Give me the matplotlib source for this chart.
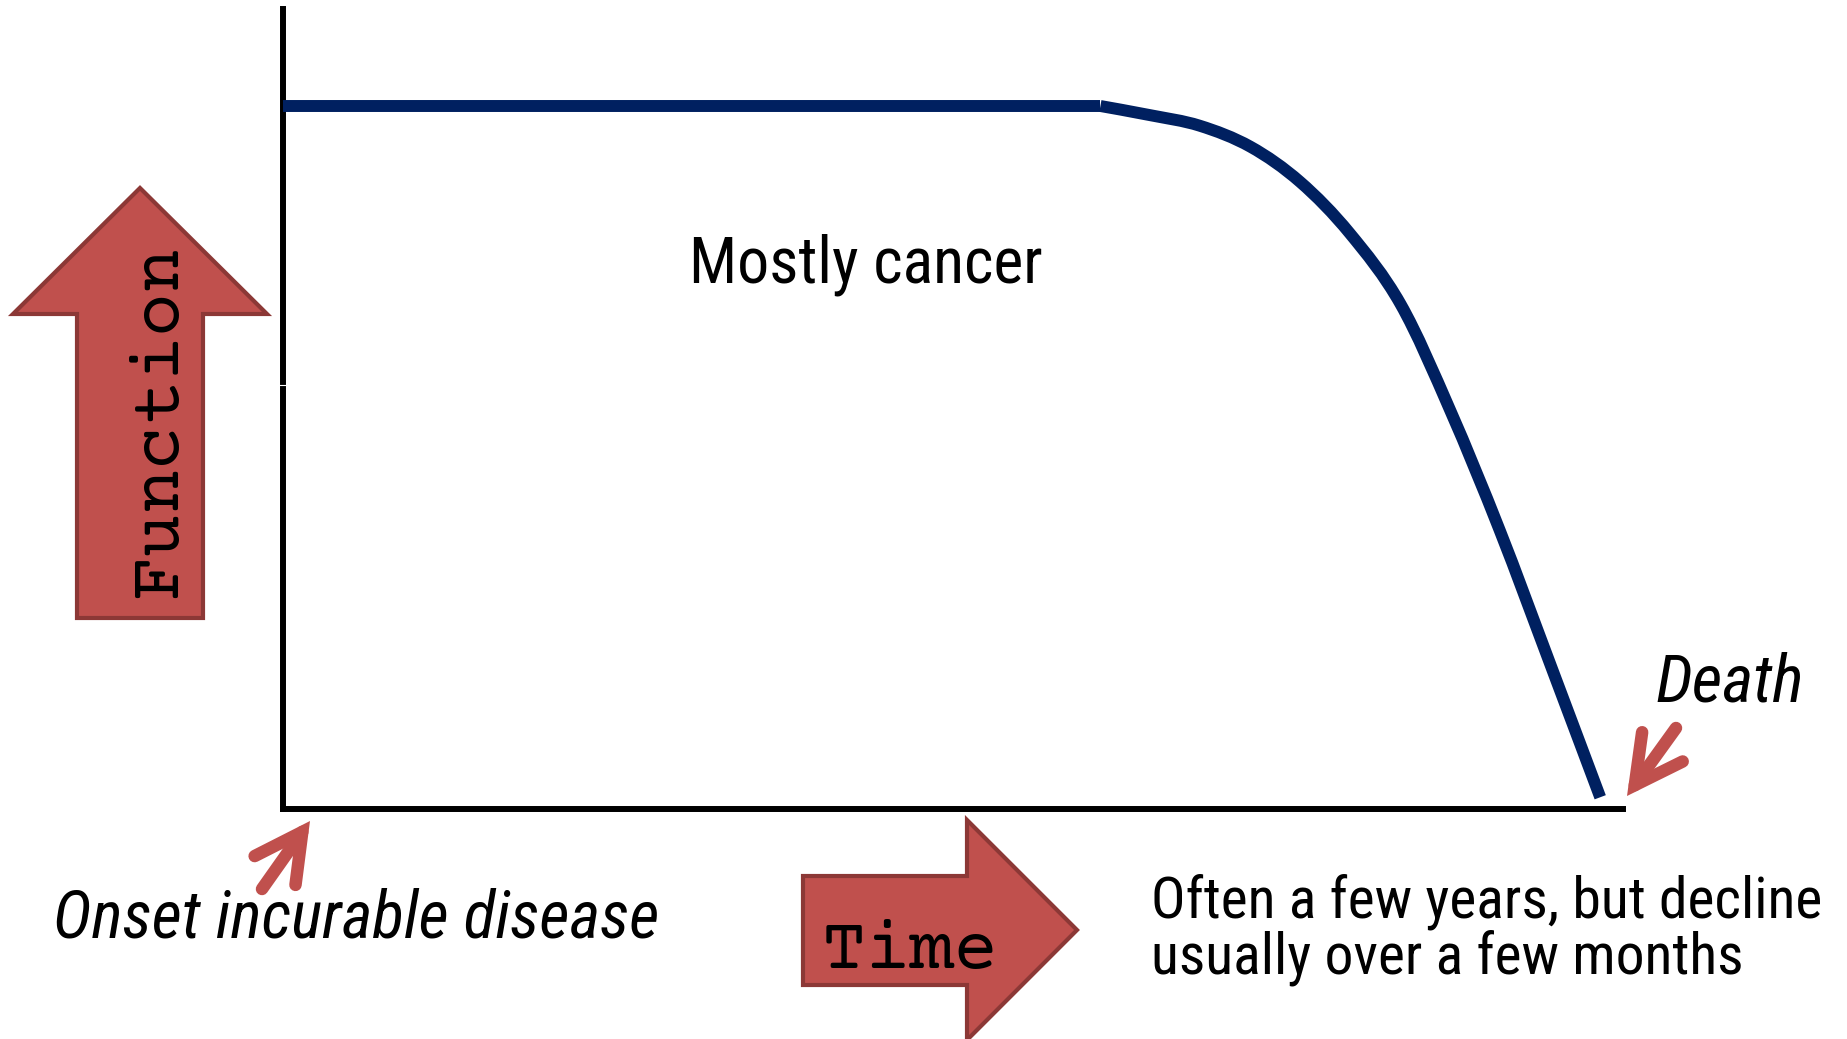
import matplotlib
matplotlib.use("Agg")
import matplotlib.pyplot as plt
from matplotlib import font_manager
from matplotlib.patches import Polygon, FancyArrowPatch, ArrowStyle, PathPatch
from matplotlib.path import Path

# ---- data (time in % of illness trajectory, function in % of baseline) ----
time = [0, 61.0, 64.7, 68.4, 72.2, 75.9, 79.6, 83.4, 87.1, 90.8, 94.6, 98.3]
function = [100, 100, 98.7, 97.2, 94.2, 89.2, 81.9, 71.8, 56.7, 39.6, 20.4, 1.6]

label_center = "Mostly cancer"
label_onset = "Onset incurable disease"
label_death = "Death"
label_note = ["Often a few years, but decline", "usually over a few months"]
label_x = "Time"
label_y = "Function"

W, H = 1847, 1039
names = {f.name for f in font_manager.fontManager.ttflist}


def pick(*cands):
    for c in cands:
        if c in names:
            return c
    return "DejaVu Sans"


SANS = pick("Liberation Sans Narrow", "Roboto Condensed", "Archivo Narrow", "Liberation Sans")
MONO = pick("Courier Prime", "Liberation Mono", "DejaVu Sans Mono")

fig = plt.figure(figsize=(W / 100, H / 100), dpi=100)
fig.patch.set_facecolor("white")

ax = fig.add_axes([283 / W, (H - 808.5) / H, 1340 / W, 799.5 / H])
ax.set_xlim(0, 100)
ax.set_ylim(0, 799.5 / 7.025)
for s in ("top", "right"):
    ax.spines[s].set_visible(False)
for s in ("left", "bottom"):
    ax.spines[s].set_linewidth(4.3)
    ax.spines[s].set_color("black")
    ax.spines[s].set_capstyle("projecting")
ax.set_xticks([])
ax.set_yticks([])
ax.patch.set_alpha(0)

# flat part as a straight line, declining part as a smooth Catmull-Rom path
navy = "#002060"
ax.plot(time[:2], function[:2], color=navy, lw=8.6, solid_capstyle="butt",
        clip_on=False, zorder=3)
pts = list(zip(time[1:], function[1:]))
ext = [pts[0]] + pts + [pts[-1]]
verts = [pts[0]]
codes = [Path.MOVETO]
for i in range(1, len(ext) - 2):
    p0, p1, p2, p3 = ext[i - 1], ext[i], ext[i + 1], ext[i + 2]
    c1 = (p1[0] + (p2[0] - p0[0]) / 6, p1[1] + (p2[1] - p0[1]) / 6)
    c2 = (p2[0] - (p3[0] - p1[0]) / 6, p2[1] - (p3[1] - p1[1]) / 6)
    verts += [c1, c2, p2]
    codes += [Path.CURVE4] * 3
ax.add_patch(PathPatch(Path(verts, codes), facecolor="none", edgecolor=navy,
                       lw=8.6, capstyle="butt", joinstyle="round",
                       clip_on=False, zorder=3))

ov = fig.add_axes([0, 0, 1, 1])
ov.set_xlim(0, W)
ov.set_ylim(H, 0)
ov.axis("off")
ov.patch.set_alpha(0)

ov.plot([279, 288], [385, 385], color="white", lw=0.8)

face, edge = "#C0504D", "#8C3836"
ov.add_patch(Polygon([(140, 188), (267, 314), (203, 314), (203, 618), (77, 618),
                      (77, 314), (13, 314)], closed=True, facecolor=face,
                     edgecolor=edge, lw=3, joinstyle="miter"))
ov.add_patch(Polygon([(803, 876), (967, 876), (967, 820), (1077, 930), (967, 1040),
                      (967, 985), (803, 985)], closed=True, facecolor=face,
                     edgecolor=edge, lw=3, joinstyle="miter"))

ov.text(176, 421, label_y, family=MONO, fontsize=53, rotation=90,
        rotation_mode="anchor", ha="center", va="baseline", color="black")
ov.text(910, 968, label_x, family=MONO, fontsize=53, ha="center",
        va="baseline", color="black")

ov.text(689, 283, label_center, family=SANS, fontsize=46, ha="left", va="baseline")
ov.text(53, 937, label_onset, family=SANS, style="italic", fontsize=47.5,
        ha="left", va="baseline")
ov.text(1655, 702, label_death, family=SANS, style="italic", fontsize=48,
        ha="left", va="baseline")
ov.text(1151, 918, label_note[0], family=SANS, fontsize=41.5, ha="left", va="baseline")
ov.text(1151, 974, label_note[1], family=SANS, fontsize=41.5, ha="left", va="baseline")

style = ArrowStyle("->", head_length=34, head_width=18)
for tail, tip in [((262, 889), (310, 821)), ((1676, 728), (1627, 796))]:
    ov.add_patch(FancyArrowPatch(tail, tip, arrowstyle=style, mutation_scale=1,
                                 color=face, lw=9, shrinkA=0, shrinkB=0,
                                 capstyle="round", joinstyle="miter"))

fig.savefig("out.png", dpi=100, facecolor="white")
